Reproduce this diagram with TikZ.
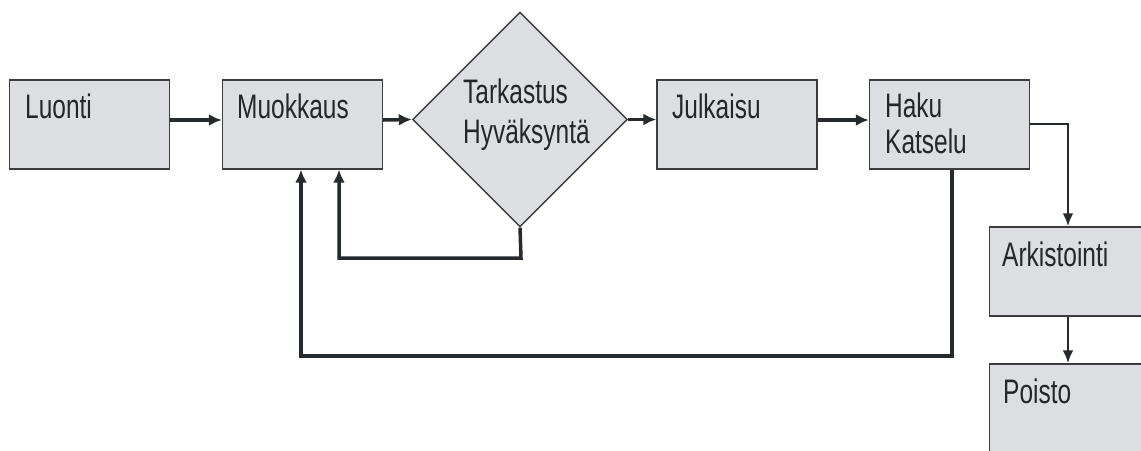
\documentclass[tikz,border=0pt]{standalone}
\usepackage{fontspec}
\setmainfont{Liberation Sans}[FakeStretch=0.72]
\usetikzlibrary{shapes.geometric,arrows.meta}
\definecolor{boxfill}{HTML}{DCDEE2}
\definecolor{boxline}{HTML}{3C3C3C}
\definecolor{arrowcol}{HTML}{262A2C}
\tikzset{
  stagebox/.style={draw=boxline, line width=1.4pt, fill=boxfill, rectangle, inner sep=0pt, minimum width=160pt, minimum height=89pt},
  decision/.style={draw=boxline, line width=1.4pt, fill=boxfill, diamond, inner sep=0pt, minimum width=215pt, minimum height=215pt},
  lbl/.style={anchor=base west, inner sep=0pt, font=\fontsize{34}{36}\selectfont, text=black!85},
  flow/.style={draw=arrowcol, line width=3.5pt, -{Latex[length=13pt,width=12pt]}},
  thinflow/.style={draw=arrowcol, line width=2.5pt, -{Latex[length=13pt,width=11pt]}}
}
\begin{document}
\begin{tikzpicture}[x=1pt,y=-1pt]
\useasboundingbox (0,0) rectangle (1141,450);
\clip (0,0) rectangle (1141,450);
% boxes
\node[stagebox] (luonti) at (89.5,124.5) {};
\node[stagebox] (muok) at (302.5,124.5) {};
\node[decision] (tark) at (520,119.5) {};
\node[stagebox] (julk) at (737,124.5) {};
\node[stagebox] (haku) at (949.5,124.5) {};
\node[stagebox] (ark) at (1069.5,271.5) {};
\node[stagebox] (poisto) at (1069.5,408.5) {};
% labels
\node[lbl] (tluonti) at (25,118) {Luonti};
\node[lbl] (tmuok) at (237,118) {Muokkaus};
\node[lbl] (ttark1) at (463,103) {Tarkastus};
\node[lbl] (ttark2) at (463,143) {Hyväksyntä};
\node[lbl] (tjulk) at (672,118) {Julkaisu};
\node[lbl] (thaku1) at (885,117) {Haku};
\node[lbl] (thaku2) at (885,153) {Katselu};
\node[lbl] (tarkist) at (1002,266) {Arkistointi};
\node[lbl] (tpoisto) at (1003,403) {Poisto};
% coordinates
\coordinate (c1) at (521,258);
\coordinate (c2) at (339,258);
\coordinate (c3) at (952,356);
\coordinate (c4) at (301,356);
\coordinate (c5) at (1068,124);
% connectors
\draw[flow] ([yshift=4.5pt]luonti.east) -- ([yshift=4.5pt]muok.west);
\draw[flow] ([yshift=4.5pt]muok.east) -- (tark.west);
\draw[flow] (tark.east) -- ([yshift=5pt]julk.west);
\draw[flow] ([yshift=4.5pt]julk.east) -- ([yshift=4.5pt]haku.west);
\draw[thinflow] ([yshift=0.5pt]haku.east) -- (c5) -- (c5 |- ark.north);
\draw[thinflow] (ark.south -| c5) -- (c5 |- poisto.north);
\draw[flow] (tark.south) -- (c1) -- (c2) -- (c2 |- muok.south);
\draw[flow] (c3 |- haku.south) -- (c3) -- (c4) -- (c4 |- muok.south);
\end{tikzpicture}
\end{document}
